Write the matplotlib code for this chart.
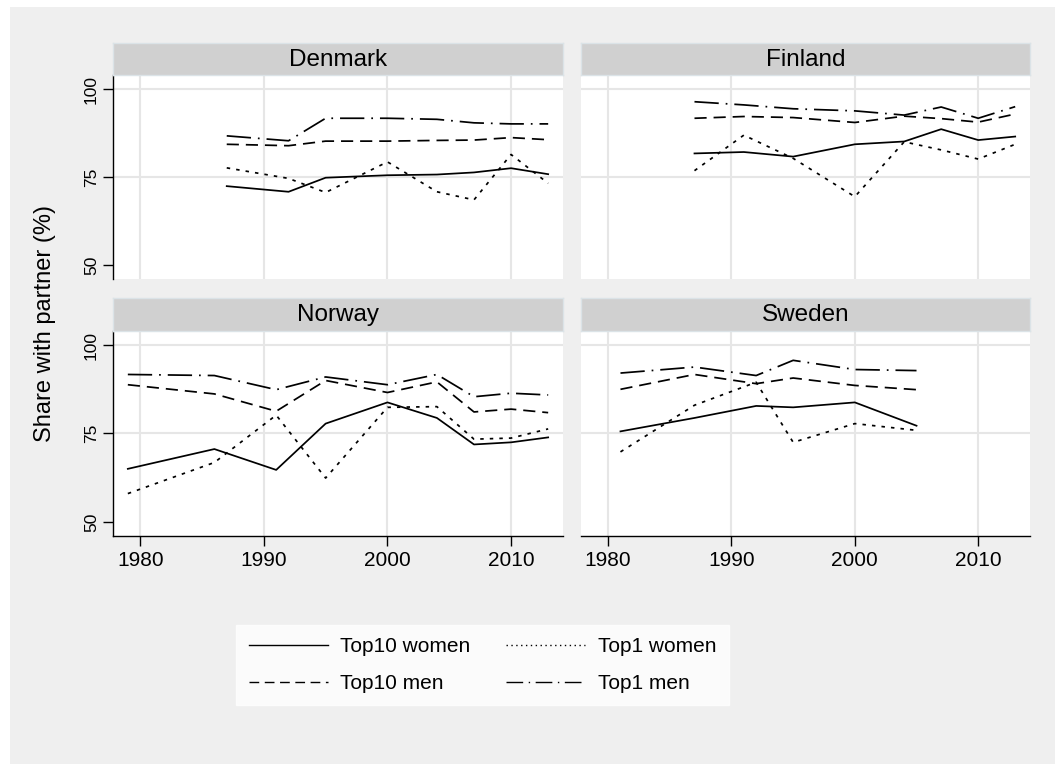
import matplotlib
matplotlib.use("Agg")
import matplotlib.pyplot as plt
from matplotlib.patches import Rectangle
from matplotlib.lines import Line2D

plt.rcParams['font.family'] = ['Liberation Sans', 'DejaVu Sans']

# Data (share with partner, %)
countries = ["Denmark", "Finland", "Norway", "Sweden"]

years_dk = [1987, 1992, 1995, 2000, 2004, 2007, 2010, 2013]
top10_women_dk = [72.4, 70.8, 74.8, 75.5, 75.7, 76.3, 77.5, 75.8]
top1_women_dk = [77.6, 74.6, 70.6, 79.3, 70.8, 68.5, 81.4, 73.2]
top10_men_dk = [84.3, 83.9, 85.2, 85.2, 85.4, 85.5, 86.2, 85.6]
top1_men_dk = [86.7, 85.3, 91.7, 91.7, 91.4, 90.4, 90.1, 90.1]

years_fi = [1987, 1991, 1995, 2000, 2004, 2007, 2010, 2013]
top10_women_fi = [81.7, 82.1, 80.8, 84.3, 85.1, 88.6, 85.5, 86.5]
top1_women_fi = [76.8, 86.9, 80.3, 69.4, 85.0, 82.7, 80.1, 84.3]
top10_men_fi = [91.7, 92.2, 91.9, 90.5, 92.3, 91.6, 90.6, 92.9]
top1_men_fi = [96.4, 95.5, 94.4, 93.8, 92.6, 94.9, 91.7, 95.0]

years_no = [1979, 1986, 1991, 1995, 2000, 2004, 2007, 2010, 2013]
top10_women_no = [65.0, 70.6, 64.7, 77.8, 83.8, 79.4, 71.9, 72.5, 73.9]
top1_women_no = [58.0, 66.8, 80.2, 62.4, 82.4, 82.6, 73.4, 73.7, 76.3]
top10_men_no = [88.8, 86.2, 81.3, 90.0, 86.6, 89.6, 81.1, 81.9, 80.9]
top1_men_no = [91.7, 91.4, 87.4, 91.0, 88.8, 91.7, 85.4, 86.4, 85.9]

years_se = [1981, 1987, 1992, 1995, 2000, 2005]
top10_women_se = [75.6, 79.4, 82.8, 82.4, 83.8, 77.2]
top1_women_se = [69.8, 83.0, 89.5, 72.5, 77.8, 75.9]
top10_men_se = [87.5, 91.7, 89.1, 90.7, 88.6, 87.4]
top1_men_se = [92.1, 93.8, 91.4, 95.7, 93.1, 92.8]

series_labels = ["Top10 women", "Top1 women", "Top10 men", "Top1 men"]
styles = ["-", (0, (2, 3.5)), (0, (7, 4)), (0, (14, 4, 1, 4))]

data = {
    "Denmark": (years_dk, [top10_women_dk, top1_women_dk, top10_men_dk, top1_men_dk]),
    "Finland": (years_fi, [top10_women_fi, top1_women_fi, top10_men_fi, top1_men_fi]),
    "Norway": (years_no, [top10_women_no, top1_women_no, top10_men_no, top1_men_no]),
    "Sweden": (years_se, [top10_women_se, top1_women_se, top10_men_se, top1_men_se]),
}

W, H = 1055, 764
fig = plt.figure(figsize=(W / 100, H / 100), dpi=100)
fig.patch.set_facecolor("white")
fig.add_artist(Rectangle((10 / W, 0), 1, 1 - 7 / H, transform=fig.transFigure,
                         facecolor="#efefef", edgecolor="none", zorder=-10))


def px_axes(l, t, r, b):
    return fig.add_axes([l / W, 1 - b / H, (r - l) / W, (b - t) / H])


# (left, top, right, bottom, strip top) in pixels
boxes = {
    "Denmark": (113, 75, 563, 279, 43),
    "Finland": (581, 75, 1030, 279, 43),
    "Norway": (113, 331, 563, 536, 298),
    "Sweden": (581, 331, 1030, 536, 298),
}

for name in countries:
    l, t, r, b, st = boxes[name]
    ax = px_axes(l, t, r, b)
    years, vals = data[name]
    for v, ls in zip(vals, styles):
        ax.plot(years, v, color="black", lw=1.25, linestyle=ls)
    ax.set_xlim(1977.8, 2014.2)
    ax.set_ylim(46, 104)
    ax.set_xticks([1980, 1990, 2000, 2010])
    ax.set_yticks([50, 75, 100])
    for x in [1980, 1990, 2000, 2010]:
        ax.axvline(x, color="#e6e6e6", lw=1.5, zorder=0)
    for y in [75, 100]:
        ax.axhline(y, color="#e6e6e6", lw=1.5, zorder=0)
    for s in ax.spines.values():
        s.set_visible(False)
    left = name in ("Denmark", "Norway")
    bottom = name in ("Norway", "Sweden")
    if left:
        ax.spines["left"].set_visible(True)
        ax.spines["left"].set_linewidth(1.0)
        ax.tick_params(axis="y", length=7, width=1.0, labelsize=12.5, pad=3)
        for lab in ax.get_yticklabels():
            lab.set_rotation(90)
            lab.set_va("center")
    else:
        ax.tick_params(axis="y", left=False, labelleft=False)
    if bottom:
        ax.spines["bottom"].set_visible(True)
        ax.spines["bottom"].set_linewidth(1.0)
        ax.tick_params(axis="x", length=7, width=1.0, labelsize=15, pad=4)
    else:
        ax.tick_params(axis="x", bottom=False, labelbottom=False)

    sax = px_axes(l, st, r, t)
    sax.set_facecolor("#d0d0d0")
    for s in sax.spines.values():
        s.set_edgecolor("#dbe3e7")
        s.set_linewidth(1.0)
    sax.set_xticks([])
    sax.set_yticks([])
    sax.text(0.5, 0.47, name, ha="center", va="center", fontsize=17.5,
             transform=sax.transAxes)

fig.text(45 / W, 1 - 324 / H, "Share with partner (%)", rotation=90,
         ha="center", va="center", fontsize=17)

leg_styles = ["-", (0, (1, 2.5)), (0, (7, 4)), (0, (12, 4, 1, 4))]
handles = [Line2D([], [], color="black", lw=1.0, linestyle=ls) for ls in leg_styles]
order = [0, 2, 1, 3]
leg = fig.legend([handles[i] for i in order], [series_labels[i] for i in order],
                 ncol=2, loc="center", bbox_to_anchor=(482.5 / W, 1 - 665 / H),
                 fontsize=15, frameon=True, fancybox=False, handlelength=3.8,
                 handletextpad=0.6, columnspacing=1.7, labelspacing=0.85,
                 borderpad=0.6)
leg.get_frame().set_facecolor("white")
leg.get_frame().set_edgecolor("white")

fig.savefig("out.png", dpi=100)
